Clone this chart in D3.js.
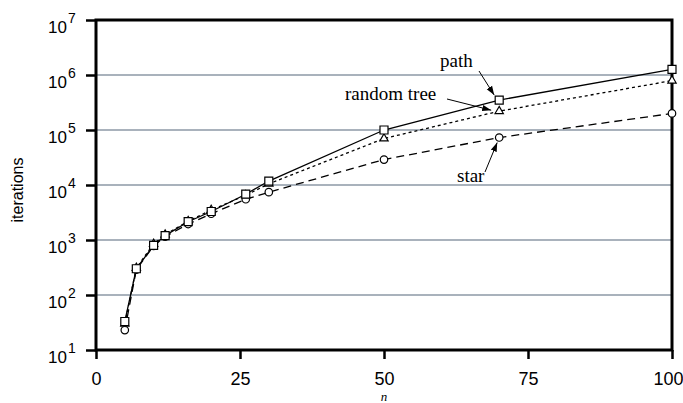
<!DOCTYPE html>
<html>
<head>
<meta charset="utf-8">
<script src="https://cdn.jsdelivr.net/npm/d3@7"></script>
<style>
body { margin: 0; background: #fff; }
svg { display: block; }
</style>
</head>
<body>
<svg id="chart" width="683" height="403"></svg>
<script>
// Data (log-scale iterations against n).
var nValues = [5, 7, 10, 12, 16, 20, 26, 30, 50, 70, 100];
var pathIters = [33, 300, 800, 1200, 2150, 3300, 6800, 11800, 100000, 350000, 1270000];
var randomTreeIters = [30, 310, 850, 1250, 2200, 3500, 6500, 10500, 70000, 220000, 790000];
var starIters = [23, 290, 780, 1150, 1950, 3000, 5500, 7400, 29000, 73000, 200000];
var xTicks = [0, 25, 50, 75, 100];
var yTicks = [1e1, 1e2, 1e3, 1e4, 1e5, 1e6, 1e7];
var gridTicks = [1e2, 1e3, 1e4, 1e5, 1e6];

var margin = {top: 20, right: 11, bottom: 53, left: 96},
    width = 683 - margin.left - margin.right,
    height = 403 - margin.top - margin.bottom;

var svg = d3.select("#chart");
var g = svg.append("g")
    .attr("transform", "translate(" + margin.left + "," + margin.top + ")");

var x = d3.scaleLinear().domain([0, 100]).range([0, width]);
var y = d3.scaleLog().domain([1e1, 1e7]).range([height, 0]);

var series = [
    {name: "path", values: pathIters, dash: null, symbol: "square"},
    {name: "random tree", values: randomTreeIters, dash: "3,3", symbol: "triangle"},
    {name: "star", values: starIters, dash: "8,5", symbol: "circle"}
];

// Horizontal grid lines
g.selectAll("line.grid")
    .data(gridTicks)
    .enter().append("line")
    .attr("class", "grid")
    .attr("x1", 0)
    .attr("x2", width)
    .attr("y1", d => y(d))
    .attr("y2", d => y(d))
    .style("stroke", "#8d99a6")
    .style("stroke-width", 1.5);

// Axes (ticks only, the frame is drawn separately)
var xAxis = g.append("g")
    .attr("transform", "translate(0," + height + ")")
    .call(d3.axisBottom(x).tickValues(xTicks).tickSize(9).tickPadding(13).tickFormat(d3.format("d")));
xAxis.select(".domain").remove();
xAxis.selectAll(".tick line").style("stroke", "#000").style("stroke-width", 2.5);
xAxis.selectAll(".tick text")
    .style("font-family", "'Liberation Sans', Arial, sans-serif")
    .style("font-size", "18px")
    .style("fill", "#000")
    .attr("dx", d => d === 100 ? -4 : 0);

var yAxis = g.append("g")
    .call(d3.axisLeft(y).tickValues(yTicks).tickSize(10).tickFormat(""));
yAxis.select(".domain").remove();
yAxis.selectAll(".tick line").style("stroke", "#000").style("stroke-width", 2.5);

// Power-of-ten labels with superscript exponents
yAxis.selectAll(".tick").each(function(d) {
    var t = d3.select(this).append("text")
        .attr("x", -48)
        .attr("y", 12)
        .attr("text-anchor", "start")
        .style("font-family", "'Liberation Sans', Arial, sans-serif")
        .style("fill", "#000");
    t.append("tspan")
        .style("font-size", "17px")
        .text("10");
    t.append("tspan")
        .attr("dy", -10)
        .attr("dx", 1)
        .style("font-size", "14px")
        .text(Math.round(Math.log10(d)));
});

// Plot frame
g.append("rect")
    .attr("width", width)
    .attr("height", height)
    .style("fill", "none")
    .style("stroke", "#000")
    .style("stroke-width", 3);

// Lines
var line = d3.line()
    .x((d, i) => x(nValues[i]))
    .y(d => y(d));

g.selectAll("path.series")
    .data(series)
    .enter().append("path")
    .attr("class", "series")
    .attr("d", d => line(d.values))
    .style("fill", "none")
    .style("stroke", "#000")
    .style("stroke-width", 1.3)
    .style("stroke-dasharray", d => d.dash);

// Markers, drawn star first so squares sit on top
var symbols = {
    square: d3.symbol().type(d3.symbolSquare).size(64),
    triangle: d3.symbol().type(d3.symbolTriangle).size(30),
    circle: d3.symbol().type(d3.symbolCircle).size(44)
};
series.slice().reverse().forEach(function(s) {
    g.selectAll(null)
        .data(s.values)
        .enter().append("path")
        .attr("transform", (d, i) => "translate(" + x(nValues[i]) + "," + y(d) + ")")
        .attr("d", symbols[s.symbol]())
        .style("fill", "#fff")
        .style("stroke", "#000")
        .style("stroke-width", 1.2);
});

// Arrow head
svg.append("defs").append("marker")
    .attr("id", "arrow")
    .attr("viewBox", "0 0 10 10")
    .attr("refX", 10)
    .attr("refY", 5)
    .attr("markerWidth", 9)
    .attr("markerHeight", 9)
    .attr("markerUnits", "userSpaceOnUse")
    .attr("orient", "auto")
    .append("path")
    .attr("d", "M0,1.5L10,5L0,8.5Z")
    .style("fill", "#000");

// Series labels with arrows pointing at the n = 70 markers
var k = nValues.indexOf(70);
var labels = [
    {text: "path", tx: 344, ty: 47, ax: 383, ay: 51, px: x(70) - 5, py: y(pathIters[k]) - 5},
    {text: "random tree", tx: 249, ty: 80, ax: 351, ay: 79, px: x(70) - 8, py: y(randomTreeIters[k]) - 1},
    {text: "star", tx: 361, ty: 162, ax: 389, ay: 152, px: x(70) - 2, py: y(starIters[k]) + 5}
];

g.selectAll("text.label")
    .data(labels)
    .enter().append("text")
    .attr("class", "label")
    .attr("x", d => d.tx)
    .attr("y", d => d.ty)
    .style("font-family", "'Liberation Serif', 'Times New Roman', serif")
    .style("font-size", "19px")
    .style("fill", "#000")
    .text(d => d.text);

g.selectAll("line.arrow")
    .data(labels)
    .enter().append("line")
    .attr("class", "arrow")
    .attr("x1", d => d.ax)
    .attr("y1", d => d.ay)
    .attr("x2", d => d.px)
    .attr("y2", d => d.py)
    .style("stroke", "#000")
    .style("stroke-width", 1)
    .attr("marker-end", "url(#arrow)");

// Axis titles
svg.append("text")
    .attr("transform", "translate(23," + (margin.top + height / 2 + 5) + ") rotate(-90)")
    .attr("text-anchor", "middle")
    .style("font-family", "'Liberation Sans', Arial, sans-serif")
    .style("font-size", "16px")
    .text("iterations");

svg.append("text")
    .attr("x", margin.left + width / 2)
    .attr("y", 401)
    .attr("text-anchor", "middle")
    .style("font-family", "'Liberation Serif', 'Times New Roman', serif")
    .style("font-style", "italic")
    .style("font-size", "13px")
    .text("n");
</script>
</body>
</html>
